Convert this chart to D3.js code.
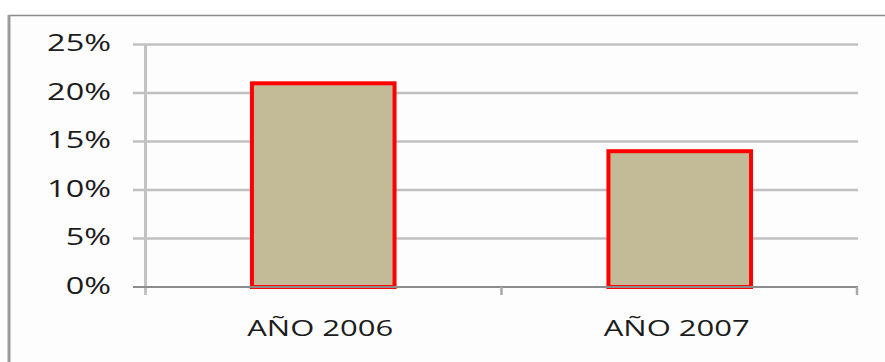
<!DOCTYPE html>
<html>
<head>
<meta charset="utf-8">
<script src="https://cdn.jsdelivr.net/npm/d3@7"></script>
<style>
  body { margin: 0; background: #fff; }
  svg { display: block; }
  text { font-family: "Open Sans", "DejaVu Sans", sans-serif; fill: #1c1c1c; }
</style>
</head>
<body>
<svg id="chart" width="885" height="362"></svg>
<script>
// Share per year
const categories = ["AÑO 2006", "AÑO 2007"];
const values = [21, 14];
const yTicks = [0, 5, 10, 15, 20, 25];
const yTickLabels = ["0%", "5%", "10%", "15%", "20%", "25%"];

const W = 885, H = 362;
const plot = { left: 145, right: 858, top: 44.5, bottom: 287 };
const textStretch = 1.41;

const svg = d3.select("#chart");

const x = d3.scaleBand()
  .domain(categories)
  .range([plot.left, plot.right])
  .paddingInner(0.6)
  .paddingOuter(0.3);

const y = d3.scaleLinear()
  .domain([0, 25])
  .range([plot.bottom, plot.top]);

// chart frame
svg.append("rect").attr("width", W).attr("height", H).attr("fill", "#fff");
svg.append("rect").attr("x", 10).attr("y", 16).attr("width", W - 10).attr("height", H - 16).attr("fill", "#fdfdfd");
svg.append("line").attr("x1", 8).attr("x2", W).attr("y1", 15.5).attr("y2", 15.5)
  .attr("stroke", "#8c8c8c").attr("stroke-width", 1.5);
svg.append("line").attr("x1", 9).attr("x2", 9).attr("y1", 15).attr("y2", H)
  .attr("stroke", "#9c9c9c").attr("stroke-width", 3);

// horizontal gridlines (with the left tick stubs)
svg.append("g").selectAll("line")
  .data(yTicks.filter(t => t !== 0))
  .join("line")
  .attr("x1", plot.left - 12).attr("x2", plot.right)
  .attr("y1", d => y(d)).attr("y2", d => y(d))
  .attr("stroke", "#c0c0c0").attr("stroke-width", 2.3);

// value axis line
svg.append("line")
  .attr("x1", plot.left + 0.5).attr("x2", plot.left + 0.5)
  .attr("y1", y(25)).attr("y2", plot.bottom + 8)
  .attr("stroke", "#c2c2c2").attr("stroke-width", 3);

// tick labels
svg.append("g").selectAll("text")
  .data(yTicks)
  .join("text")
  .attr("text-anchor", "end")
  .attr("font-size", 23)
  .attr("transform", d => `translate(111,${y(d) + 6.8}) scale(${textStretch},1)`)
  .text((d, i) => yTickLabels[i]);

// bars
svg.append("g").selectAll("rect")
  .data(values)
  .join("rect")
  .attr("x", (d, i) => x(categories[i]))
  .attr("width", x.bandwidth())
  .attr("y", d => y(d))
  .attr("height", d => y(0) - y(d))
  .attr("fill", "#c3bb97")
  .attr("stroke", "#ff0000")
  .attr("stroke-width", 4);

// category axis
svg.append("line")
  .attr("x1", plot.left - 12).attr("x2", plot.right)
  .attr("y1", y(0)).attr("y2", y(0))
  .attr("stroke", "#8c8c8c").attr("stroke-width", 2);

const boundaries = [x.step() + plot.left, plot.right - 1];
svg.append("g").selectAll("line")
  .data(boundaries)
  .join("line")
  .attr("x1", d => d).attr("x2", d => d)
  .attr("y1", y(0)).attr("y2", y(0) + 8)
  .attr("stroke", "#a8a8a8").attr("stroke-width", 2.5);

svg.append("g").selectAll("text")
  .data(categories)
  .join("text")
  .attr("text-anchor", "middle")
  .attr("font-size", 22)
  .attr("transform", d => `translate(${x(d) + x.bandwidth() / 2 - 3},335.5) scale(${textStretch},1)`)
  .text(d => d);
</script>
</body>
</html>
